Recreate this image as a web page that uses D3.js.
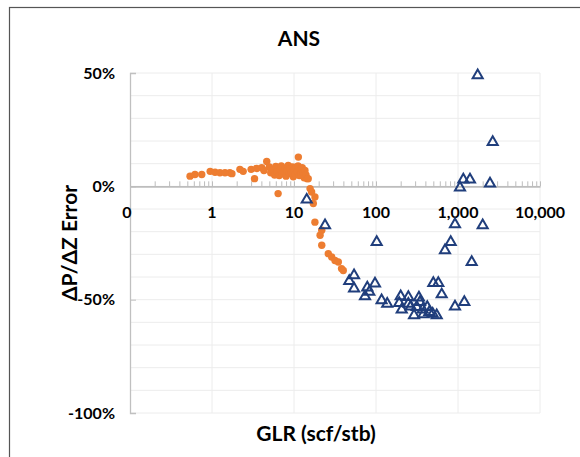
<!DOCTYPE html>
<html>
<head>
<meta charset="utf-8">
<script src="https://cdn.jsdelivr.net/npm/d3@7"></script>
<style>
  html, body { margin: 0; padding: 0; background: #fff; }
  svg { display: block; }
  text { font-family: Lato, "Open Sans", sans-serif; font-weight: bold; fill: #000; }
</style>
</head>
<body>
<svg id="chart" width="580" height="457"></svg>
<script>
// GLR (scf/stb) and dP/dZ error (%) for the two data groups
const orangeGLR = [0.54,0.62,0.75,0.95,1.09,1.25,1.44,1.65,1.75,2.19,2.4,3.0,3.3,3.5,4.04,4.65,4.3,
  5.0,5.2,5.5,5.8,6.0,6.2,6.4,6.6,6.8,7.0,7.2,7.5,7.8,8.0,8.2,8.5,8.8,9.0,9.3,9.6,9.8,10.0,10.3,10.6,10.9,
  11.3,11.2,11.6,12.0,12.3,12.6,13.0,13.3,13.6,14.0,14.5,14.9,
  15.7,16.4,18.0,17.2,18.0,21.8,20.8,21.8,26.2,28.8,31.6,34.7,38.0,39.9];
const orangeErr = [4.5,5.2,5.2,6.6,6.2,6.0,6.0,6.0,5.6,7.5,6.6,7.5,3.4,7.9,8.2,11.0,7.0,
  8.5,6.0,7.2,5.0,8.8,6.5,-3.2,4.8,7.5,9.0,5.5,6.8,8.0,4.5,7.0,9.2,5.8,7.8,6.2,8.6,4.2,7.2,5.2,8.4,6.5,
  12.9,9.0,4.8,7.6,5.6,8.2,6.0,3.8,7.0,5.0,3.4,3.4,
  -1.0,-2.5,-4.7,-7.6,-15.8,-19.4,-21.6,-26.0,-29.7,-31.2,-32.7,-33.4,-36.3,-37.1];

const blueGLR = [14.3,23.9,102,919,2000,815,694,1469,500,575,633,919,1194,1738,2650,1161,1400,1058,2456,
  54,47.2,54,78.3,97.2,82.8,73.5,117,137,200,248,192,206,248,265,334,344,314,291,371,422,447,378,491,550];
const blueErr = [-5.9,-17.2,-24.6,-16.8,-17.2,-24.6,-28.2,-33.4,-42.7,-42.7,-47.7,-53.0,-51.1,49.0,19.5,3.0,3.0,-0.6,1.2,
  -39.3,-41.8,-45.1,-44.7,-42.9,-46.6,-48.5,-50.3,-51.8,-48.5,-48.9,-51.5,-54.4,-51.8,-53.0,-49.1,-51.1,-53.3,-56.9,-54.4,-53.3,-55.5,-56.5,-56.2,-56.9];

const xTickValues = [0.1, 1, 10, 100, 1000, 10000];
const xTickLabels = ["0", "1", "10", "100", "1,000", "10,000"];
const yTickValues = [50, 0, -50, -100];
const yTickLabels = ["50%", "0%", "-50%", "-100%"];

const svg = d3.select("#chart");

// outer frame
svg.append("rect")
  .attr("x", 9.5).attr("y", 7.5).attr("width", 600).attr("height", 480)
  .attr("fill", "none").attr("stroke", "#555").attr("stroke-width", 1.2);

const plot = { left: 130, right: 540, top: 73, bottom: 413 };
const x = d3.scaleLog().domain([0.1, 10000]).range([plot.left, plot.right]);
const y = d3.scaleLinear().domain([-100, 50]).range([plot.bottom, plot.top]);

// horizontal gridlines every 10%
const gy = d3.range(-100, 51, 10);
svg.append("g").selectAll("line").data(gy).join("line")
  .attr("x1", plot.left).attr("x2", plot.right)
  .attr("y1", d => y(d)).attr("y2", d => y(d))
  .attr("stroke", "#ececec").attr("stroke-width", 1);

// vertical gridlines at each decade
svg.append("g").selectAll("line").data(xTickValues.slice(1)).join("line")
  .attr("x1", d => x(d)).attr("x2", d => x(d))
  .attr("y1", plot.top).attr("y2", plot.bottom)
  .attr("stroke", "#ececec").attr("stroke-width", 1);

// y axis
const yAxis = d3.axisLeft(y).tickValues(yTickValues)
  .tickFormat((d, i) => yTickLabels[i]).tickSize(-6).tickPadding(15);
const yg = svg.append("g").attr("transform", `translate(${plot.left},0)`).call(yAxis);
yg.select(".domain").attr("stroke", "#c0c0c0").attr("stroke-width", 1.3);
yg.selectAll(".tick line").attr("stroke", "#c0c0c0");
yg.selectAll(".tick text").style("font-size", "16px").attr("font-family", "Lato, sans-serif").attr("font-weight", "bold");

// x axis drawn through 0%, with log minor ticks above
const minor = [];
for (let e = -1; e < 4; e++) for (let m = 1; m <= 9; m++) minor.push(m * Math.pow(10, e));
minor.push(10000);
const xAxis = d3.axisTop(x).tickValues(minor).tickFormat("").tickSize(5).tickSizeOuter(0);
const xg = svg.append("g").attr("transform", `translate(0,${y(0)})`).call(xAxis);
xg.select(".domain").attr("stroke", "#bdbdbd").attr("stroke-width", 1.6);
xg.selectAll(".tick line").attr("stroke", "#bdbdbd").attr("stroke-width", 1);

// decade labels below the 0% line
svg.append("g").selectAll("text").data(xTickValues).join("text")
  .attr("x", (d, i) => x(d) + (i === 0 ? -3 : 0))
  .attr("y", y(0) + 32)
  .attr("text-anchor", "middle")
  .style("font-size", "16px")
  .text((d, i) => xTickLabels[i]);

// orange circles
svg.append("g").selectAll("circle").data(orangeGLR.map((g, i) => [g, orangeErr[i]])).join("circle")
  .attr("cx", d => x(d[0])).attr("cy", d => y(d[1]))
  .attr("r", 3.7).attr("fill", "#ED7D31");

// blue open triangles
const tri = d3.symbol().type(d3.symbolTriangle).size(44);
svg.append("g").selectAll("path").data(blueGLR.map((g, i) => [g, blueErr[i]])).join("path")
  .attr("d", tri)
  .attr("transform", d => `translate(${x(d[0])},${y(d[1])})`)
  .attr("fill", "none").attr("stroke", "#203e7c").attr("stroke-width", 2);

// titles
svg.append("text").attr("x", 299).attr("y", 46).attr("text-anchor", "middle")
  .style("font-size", "21px").text("ANS");
svg.append("text").attr("x", 316).attr("y", 441).attr("text-anchor", "middle")
  .style("font-size", "21px").text("GLR (scf/stb)");
svg.append("text").attr("transform", "translate(77,243) rotate(-90)").attr("text-anchor", "middle")
  .style("font-size", "21px").text("ΔP/ΔZ Error");
</script>
</body>
</html>
